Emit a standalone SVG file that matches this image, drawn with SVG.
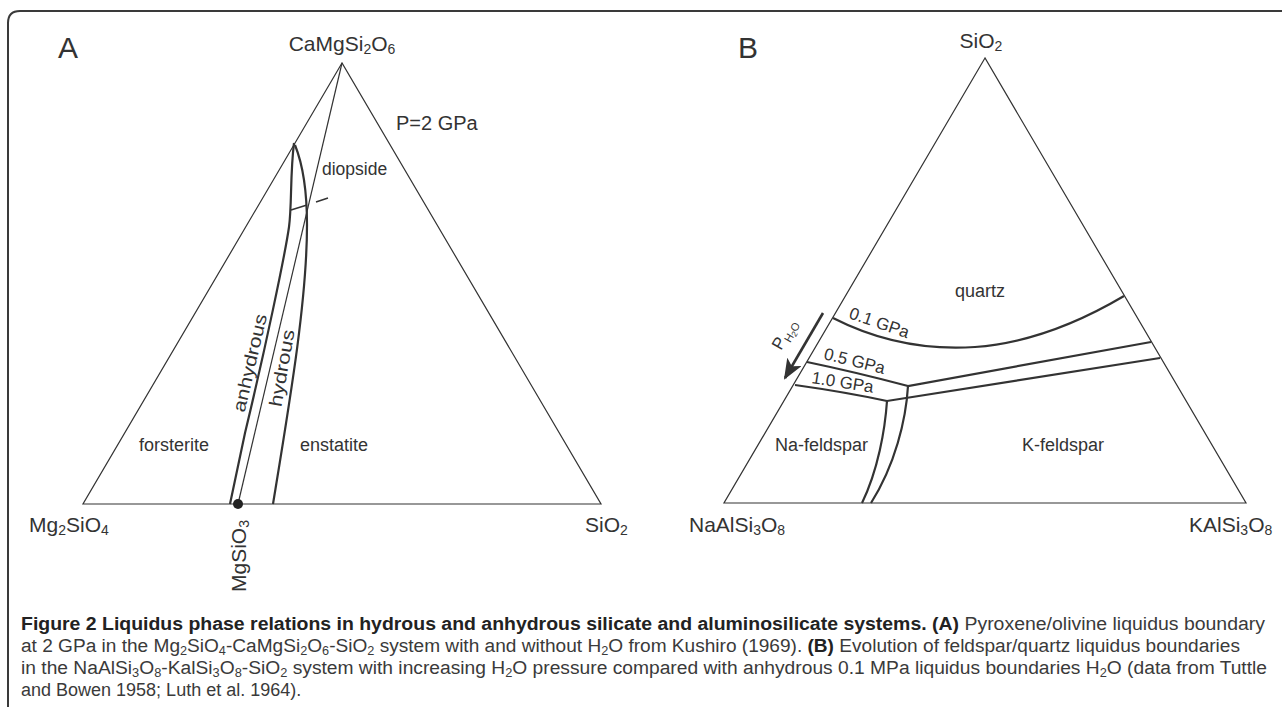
<svg xmlns="http://www.w3.org/2000/svg" width="1282" height="707" viewBox="0 0 1282 707">
<style>
text{font-family:"Liberation Sans",Arial,sans-serif;fill:#333}
.v{font-size:21px}
.r{font-size:18px}
.thin{fill:none;stroke:#333;stroke-width:1.2}
.thick{fill:none;stroke:#333;stroke-width:2.2}
.cap{font-size:18px;fill:#3a3a3a}
.b{font-weight:bold;fill:#222}
</style>
<defs>
<marker id="ah" viewBox="0 0 20 16" refX="18" refY="8" markerWidth="8" markerHeight="6.4" markerUnits="strokeWidth" orient="auto">
<path d="M0,0 L20,8 L0,16 L5,8 Z" fill="#333"/>
</marker>
</defs>
<rect width="1282" height="707" fill="#fff"/>
<path d="M8,707 V23 Q8,11 20,11 H1282" fill="none" stroke="#3a3a3a" stroke-width="2"/>

<g id="panelA">
<text x="58" y="58" style="font-size:30px">A</text>
<path class="thin" d="M342,63 L83,504 L601,504 Z"/>
<path class="thin" d="M342,63 L238,504"/>
<path class="thick" d="M294,143 C290,175 292,205 289,227 C285,255 265,350 245,433 L230,504"/>
<path class="thick" d="M295,145 C303,165 307,190 307,225 C307,300 290,400 273,504"/>
<path class="thin" style="stroke-width:1.5" d="M291,210 L307,205 M316,202 L328,198"/>
<circle cx="238" cy="504" r="5" fill="#222"/>
<text class="v" x="342" y="51" text-anchor="middle">CaMgSi<tspan dy="3" style="font-size:14px">2</tspan><tspan dy="-3">O</tspan><tspan dy="3" style="font-size:14px">6</tspan></text>
<text x="396" y="130" style="font-size:20px">P=2 GPa</text>
<text x="322" y="175" style="font-size:17.5px">diopside</text>
<text class="r" x="139" y="451">forsterite</text>
<text class="r" x="300" y="451">enstatite</text>
<text class="r" transform="translate(250,363) rotate(-77)" text-anchor="middle" dy="6" textLength="100" lengthAdjust="spacingAndGlyphs">anhydrous</text>
<text class="r" transform="translate(282,368) rotate(-80)" text-anchor="middle" dy="6" textLength="78" lengthAdjust="spacingAndGlyphs">hydrous</text>
<text class="v" x="29" y="532">Mg<tspan dy="3" style="font-size:14px">2</tspan><tspan dy="-3">SiO</tspan><tspan dy="3" style="font-size:14px">4</tspan></text>
<text class="v" x="585" y="532">SiO<tspan dy="3" style="font-size:14px">2</tspan></text>
<text class="v" transform="translate(246,592) rotate(-90)">MgSiO<tspan dy="3" style="font-size:14px">3</tspan></text>
</g>

<g id="panelB">
<text x="738" y="58" style="font-size:30px">B</text>
<path class="thin" d="M985,58 L724,503 L1246,503 Z"/>
<path class="thick" d="M833,318 C880,342 930,350 975,347 C1030,343 1080,322 1124,296"/>
<path class="thick" d="M807,362 Q855,372 908,386 L1151,342"/>
<path class="thick" d="M795,385 Q845,392 887,401 L1160,358"/>
<path class="thick" d="M908,386 C906,420 895,465 871,503"/>
<path class="thick" d="M887,401 C885,430 878,470 862,503"/>
<path d="M823,313 L785,378" fill="none" stroke="#333" stroke-width="2.6" marker-end="url(#ah)"/>
<text class="v" x="981" y="48" text-anchor="middle">SiO<tspan dy="3" style="font-size:14px">2</tspan></text>
<text transform="translate(781,351) rotate(-60)" style="font-size:17px">P<tspan dy="4" style="font-size:11px">H</tspan><tspan dy="2" style="font-size:8px">2</tspan><tspan dy="-2" style="font-size:11px">O</tspan></text>
<text transform="translate(848,318) rotate(19)" style="font-size:17px">0.1 GPa</text>
<text transform="translate(823,359) rotate(14)" style="font-size:17px">0.5 GPa</text>
<text transform="translate(811,383) rotate(9)" style="font-size:17px">1.0 GPa</text>
<text class="r" x="955" y="297">quartz</text>
<text class="r" x="868" y="451" text-anchor="end">Na-feldspar</text>
<text class="r" x="1022" y="451">K-feldspar</text>
<text class="v" x="689" y="532">NaAlSi<tspan dy="3" style="font-size:14px">3</tspan><tspan dy="-3">O</tspan><tspan dy="3" style="font-size:14px">8</tspan></text>
<text class="v" x="1189" y="532">KAlSi<tspan dy="3" style="font-size:14px">3</tspan><tspan dy="-3">O</tspan><tspan dy="3" style="font-size:14px">8</tspan></text>
</g>

<g id="caption">
<text class="cap" x="21" y="630" textLength="1244" lengthAdjust="spacingAndGlyphs"><tspan class="b">Figure 2 Liquidus phase relations in hydrous and anhydrous silicate and aluminosilicate systems. (A)</tspan> Pyroxene/olivine liquidus boundary</text>
<text class="cap" x="21" y="652" textLength="1219" lengthAdjust="spacingAndGlyphs">at 2 GPa in the Mg<tspan dy="3" style="font-size:12px">2</tspan><tspan dy="-3">SiO</tspan><tspan dy="3" style="font-size:12px">4</tspan><tspan dy="-3">-CaMgSi</tspan><tspan dy="3" style="font-size:12px">2</tspan><tspan dy="-3">O</tspan><tspan dy="3" style="font-size:12px">6</tspan><tspan dy="-3">-SiO</tspan><tspan dy="3" style="font-size:12px">2</tspan><tspan dy="-3"> system with and without H</tspan><tspan dy="3" style="font-size:12px">2</tspan><tspan dy="-3">O from Kushiro (1969). </tspan><tspan class="b">(B)</tspan> Evolution of feldspar/quartz liquidus boundaries</text>
<text class="cap" x="21" y="674" textLength="1246" lengthAdjust="spacingAndGlyphs">in the NaAlSi<tspan dy="3" style="font-size:12px">3</tspan><tspan dy="-3">O</tspan><tspan dy="3" style="font-size:12px">8</tspan><tspan dy="-3">-KalSi</tspan><tspan dy="3" style="font-size:12px">3</tspan><tspan dy="-3">O</tspan><tspan dy="3" style="font-size:12px">8</tspan><tspan dy="-3">-SiO</tspan><tspan dy="3" style="font-size:12px">2</tspan><tspan dy="-3"> system with increasing H</tspan><tspan dy="3" style="font-size:12px">2</tspan><tspan dy="-3">O pressure compared with anhydrous 0.1 MPa liquidus boundaries H</tspan><tspan dy="3" style="font-size:12px">2</tspan><tspan dy="-3">O (data from Tuttle</tspan></text>
<text class="cap" x="21" y="696">and Bowen 1958; Luth et al. 1964).</text>
</g>
</svg>
